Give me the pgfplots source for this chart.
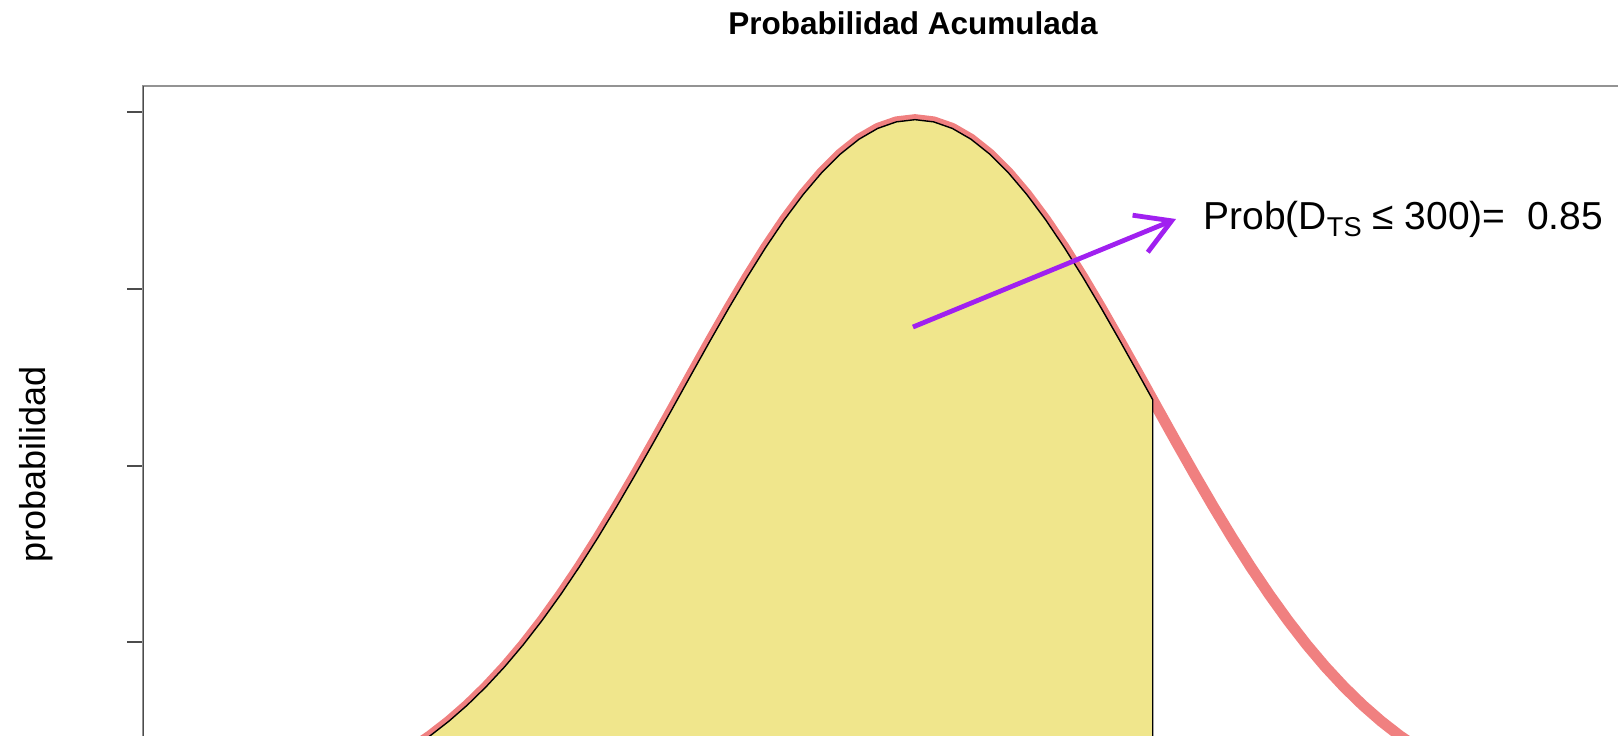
\documentclass[border=0pt]{standalone}
\usepackage{pgfplots}
\pgfplotsset{compat=1.18}
\usepackage{pgfplotstable}
\usepackage{fontspec}
\setmainfont{Liberation Sans}
\usetikzlibrary{arrows.meta}
\definecolor{khakiR}{RGB}{240,230,140}
\definecolor{coralR}{RGB}{240,128,128}
\definecolor{purpleR}{RGB}{160,32,240}

\pgfplotstableread{
x y
190.5 0.000061
192.5 0.000079
194.5 0.000103
196.5 0.000132
198.5 0.000168
200.5 0.000212
202.5 0.000267
204.5 0.000334
206.5 0.000415
208.5 0.000513
210.5 0.000629
212.5 0.000767
214.5 0.000930
216.5 0.001120
218.5 0.001340
220.5 0.001594
222.5 0.001883
224.5 0.002211
226.5 0.002580
228.5 0.002992
230.5 0.003447
232.5 0.003947
234.5 0.004492
236.5 0.005079
238.5 0.005706
240.5 0.006371
242.5 0.007069
244.5 0.007794
246.5 0.008539
248.5 0.009297
250.5 0.010059
252.5 0.010815
254.5 0.011554
256.5 0.012266
258.5 0.012941
260.5 0.013567
262.5 0.014134
264.5 0.014632
266.5 0.015053
268.5 0.015389
270.5 0.015633
272.5 0.015781
274.5 0.015831
276.5 0.015781
278.5 0.015633
280.5 0.015389
282.5 0.015053
284.5 0.014632
286.5 0.014134
288.5 0.013567
290.5 0.012941
292.5 0.012266
294.5 0.011554
296.5 0.010815
298.5 0.010059
300.0 0.009488
300.5 0.009297
302.5 0.008539
304.5 0.007794
306.5 0.007069
308.5 0.006371
310.5 0.005706
312.5 0.005079
314.5 0.004492
316.5 0.003947
318.5 0.003447
320.5 0.002992
322.5 0.002580
324.5 0.002211
326.5 0.001883
328.5 0.001594
330.5 0.001340
332.5 0.001120
334.5 0.000930
336.5 0.000767
338.5 0.000629
340.5 0.000513
342.5 0.000415
344.5 0.000334
346.5 0.000267
348.5 0.000212
350.5 0.000168
352.5 0.000132
354.5 0.000103
356.5 0.000079
358.5 0.000061
}\densitytable

\pgfplotstableread{
x y
190.5 0.000061
192.5 0.000079
194.5 0.000103
196.5 0.000132
198.5 0.000168
200.5 0.000212
202.5 0.000267
204.5 0.000334
206.5 0.000415
208.5 0.000513
210.5 0.000629
212.5 0.000767
214.5 0.000930
216.5 0.001120
218.5 0.001340
220.5 0.001594
222.5 0.001883
224.5 0.002211
226.5 0.002580
228.5 0.002992
230.5 0.003447
232.5 0.003947
234.5 0.004492
236.5 0.005079
238.5 0.005706
240.5 0.006371
242.5 0.007069
244.5 0.007794
246.5 0.008539
248.5 0.009297
250.5 0.010059
252.5 0.010815
254.5 0.011554
256.5 0.012266
258.5 0.012941
260.5 0.013567
262.5 0.014134
264.5 0.014632
266.5 0.015053
268.5 0.015389
270.5 0.015633
272.5 0.015781
274.5 0.015831
276.5 0.015781
278.5 0.015633
280.5 0.015389
282.5 0.015053
284.5 0.014632
286.5 0.014134
288.5 0.013567
290.5 0.012941
292.5 0.012266
294.5 0.011554
296.5 0.010815
298.5 0.010059
300.0 0.009488
}\areatable

\begin{document}
\begin{tikzpicture}
\path[use as bounding box] (-71.5pt,56pt) rectangle (737.5pt,423.5pt);
\clip (-71.5pt,56pt) rectangle (737.5pt,423.5pt);
\begin{axis}[
  at={(0pt,0pt)}, anchor=south west,
  scale only axis,
  width=772pt, height=380.5pt,
  xmin=191.71, xmax=357.29,
  ymin=-0.000634, ymax=0.016593,
  axis line style={gray!85, line width=1pt},
  xtick=\empty,
  ytick={0.004,0.008,0.012,0.016},
  yticklabels={},
  scaled y ticks=false,
  ytick pos=left,
  tick align=outside,
  major tick length=8pt,
  ytick style={black!70, line width=1pt},
]
\addplot[coralR, line width=5.5pt, line join=round, no markers] table[x=x,y=y] {\densitytable};
\addplot[fill=khakiR, draw=black, line width=0.7pt, no markers] table[x=x,y=y] {\areatable} \closedcycle;
\draw[black!70, line width=1pt] (rel axis cs:0,0) -- (rel axis cs:0,1);
\draw[purpleR, line width=2.4pt, -{Straight Barb[length=17pt,width=20pt]}] (axis cs:274.28,0.011137) -- (axis cs:302.49,0.013582);
\end{axis}
\node[font={\bfseries\fontsize{15.75pt}{18pt}\selectfont}, anchor=center] at (385pt,412pt) {Probabilidad Acumulada};
\node[font={\fontsize{18pt}{21pt}\selectfont}, rotate=90, anchor=center] at (-53.5pt,191.5pt) {probabilidad};
\node[font={\fontsize{19.5pt}{22pt}\selectfont}, anchor=base west, inner sep=0pt] at (530pt,308.5pt) {Prob(D\raisebox{-3.5pt}{\fontsize{13.6pt}{15pt}\selectfont TS} ≤ 300)=\ \ 0.85};
\end{tikzpicture}
\end{document}
